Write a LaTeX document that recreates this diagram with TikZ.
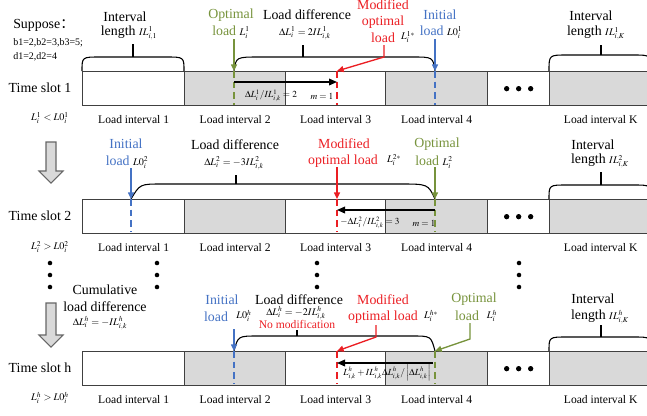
\documentclass[tikz,border=0pt]{standalone}
\usepackage{mathptmx}
\usepackage{fontspec}
\setmainfont{Liberation Serif}
\newfontfamily\cjk{Noto Sans CJK SC}
\usetikzlibrary{arrows.meta}
\definecolor{optgreen}{RGB}{119,147,60}
\definecolor{initblue}{RGB}{68,114,196}
\definecolor{modred}{RGB}{235,30,35}
\definecolor{segfill}{RGB}{217,217,217}
\definecolor{bardark}{RGB}{64,64,64}
\newcommand{\sm}[1]{{\fontsize{7.6}{9}\selectfont$#1$}}
\newcommand{\smin}[1]{{\fontsize{7}{8}\selectfont$#1$}}
\tikzset{
    every node/.style={inner sep=0pt},
    lbl/.style={font=\fontsize{10.4}{12}\selectfont},
    sublbl/.style={font=\fontsize{8.7}{10}\selectfont},
    note/.style={font=\fontsize{7.5}{9}\selectfont, anchor=west},
    seg/.style={draw=bardark, line width=1pt, minimum height=25.5pt, anchor=north west},
    brk/.style={line width=0.8pt},
    bigarr/.style={fill=segfill, draw=bardark!80, line width=0.8pt},
    tip/.style={-{Triangle[length=5pt,width=4.5pt]}},
    gline/.style={draw=optgreen, line width=1pt},
    bline/.style={draw=initblue, line width=1pt},
    rline/.style={draw=modred, line width=1pt},
    ldash/.style={dash pattern=on 5pt off 3pt},
    inarr/.style={line width=1pt, -{Triangle[length=6pt,width=5pt]}}
}

\begin{document}
\begin{tikzpicture}[x=0.75pt, y=-0.75pt]
    \useasboundingbox (0,0) rectangle (647,415);

    % bars of the three time slots
    \foreach \r/\yt in {1/71, 2/199, h/351} {
        \foreach \s/\xa/\xb/\f in {1/82/184/white, 2/184/285/segfill, 3/285/385/white, 4/385/487/segfill, d/487/549/white, K/549/651/segfill}
            \node[seg, fill=\f, minimum width={(\xb-\xa)*0.75pt}] (s\r\s) at (\xa,\yt) {};
        \foreach \s in {1,2,3,4,K}
            \node[sublbl] (l\r\s) at ([yshift=-9.75pt]s\r\s.south) {Load interval \s};
        \foreach \dx in {-12,0,12}
            \fill ([xshift=\dx*0.75pt]s\r d.center) circle (2pt);
    }

    % left column
    \node[lbl, anchor=west] (sup) at (13,25) {Suppose{\cjk ：}};
    \node[note] (bval) at (13,43) {b1=2,b2=3,b3=5;};
    \node[note] (dval) at (13,57) {d1=2,d2=4};
    \node[lbl] (ts1) at (40,88) {Time slot 1};
    \node (c1) at (50,118) {\sm{L^1_i < L0^1_i}};
    \node[lbl] (ts2) at (40,216) {Time slot 2};
    \node (c2) at (50,247) {\sm{L^2_i > L0^2_i}};
    \node[lbl] (tsh) at (40,368) {Time slot h};
    \node (ch) at (50,398) {\sm{L^h_i > L0^h_i}};
    \draw[bigarr] (46,142) -- (56,142) -- (56,171) -- (63,171) -- (51,183) -- (39,171) -- (46,171) -- cycle;
    \draw[bigarr] (46,303) -- (56,303) -- (56,335) -- (63,335) -- (51,347) -- (39,335) -- (46,335) -- cycle;
    \foreach \x in {50,157,317,519}
        \foreach \y in {263,275,287}
            \fill (\x,\y) circle (1.7pt);

    % time slot 1
    \node[lbl] (iv1a) at (125,17) {Interval};
    \node[lbl] (iv1b) at (129,33) {length \sm{IL^1_{i,1}}};
    \draw[brk] (82,71) .. controls (82,57) .. (100,57) -- (166,57) .. controls (184,57) .. (184,71);
    \draw[brk] (133,57) -- (133,44);
    \node[lbl, text=optgreen] (o1a) at (231,15) {Optimal};
    \node[lbl] (o1b) at (231,32) {\textcolor{optgreen}{load} \sm{L^1_i}};
    \node[lbl] (d1a) at (307,15) {Load difference};
    \node (d1b) at (305,33) {\sm{\Delta L^1_i = 2IL^1_{i,k}}};
    \draw[brk] (234,71) .. controls (236,57) .. (260,57) -- (412,57) .. controls (433,57) .. (435,71);
    \draw[brk] (303,57) -- (303,45);
    \node[lbl, text=modred] (m1a) at (383,5) {Modified};
    \node[lbl, text=modred] (m1b) at (383,22) {optimal};
    \node[lbl, text=modred] (m1c) at (383,38) {load};
    \node (m1d) at (408,37) {\sm{L^{1*}_i}};
    \node[lbl, text=initblue] (z1a) at (440,15) {Initial};
    \node[lbl] (z1b) at (441,32) {\textcolor{initblue}{load} \sm{L0^1_i}};
    \node[lbl] (k1a) at (591,16) {Interval};
    \node[lbl] (k1b) at (596,33) {length \sm{IL^1_{i,K}}};
    \draw[brk] (549,71) .. controls (549,55) .. (567,55) -- (633,55) .. controls (651,55) .. (651,71);
    \draw[brk] (601,55) -- (601,45);

    \coordinate (o1s) at (234,39);
    \coordinate (o1) at (234,71);
    \coordinate (o1e) at (234,105);
    \coordinate (m1s) at (384,45);
    \coordinate (m1k) at (384,57);
    \coordinate (m1) at (337,71);
    \coordinate (m1e) at (337,105);
    \coordinate (z1s) at (435,39);
    \coordinate (z1) at (435,71);
    \coordinate (z1e) at (435,105);
    \draw[gline, tip] (o1s) -- (o1);
    \draw[rline, tip] (m1s) -- (m1k) -- (m1);
    \draw[bline, tip] (z1s) -- (z1);
    \draw[gline, ldash] (o1) -- (o1e);
    \draw[rline, ldash] (m1) -- (m1e);
    \draw[bline, ldash] (z1) -- (z1e);
    \draw[inarr] ([yshift=-8.25pt]o1) -- ([yshift=-8.25pt]m1);
    \node (q1) at (271,96) {\smin{\Delta L^1_i / IL^1_{i,k} = 2}};
    \node (n1) at (322,96) {\smin{m = 1}};

    % time slot 2
    \node[lbl, text=initblue] (z2a) at (126,144) {Initial};
    \node[lbl] (z2b) at (127,162) {\textcolor{initblue}{load} \sm{L0^2_i}};
    \node[lbl] (d2a) at (235,145) {Load difference};
    \node (d2b) at (234,163) {\sm{\Delta L^2_i = -3IL^2_{i,k}}};
    \draw[brk] (131,199) .. controls (140,184) .. (162,184) -- (400,184) .. controls (428,184) .. (435,199);
    \draw[brk] (236,184) -- (236,175);
    \node[lbl, text=modred] (m2a) at (344,144) {Modified};
    \node[lbl, text=modred] (m2b) at (343,161) {optimal load};
    \node (m2c) at (394,160) {\sm{L^{2*}_i}};
    \node[lbl, text=optgreen] (o2a) at (437,144) {Optimal};
    \node[lbl] (o2b) at (434,162) {\textcolor{optgreen}{load} \sm{L^2_i}};
    \node[lbl] (k2a) at (593,145) {Interval};
    \node[lbl] (k2b) at (600,161) {length \sm{IL^2_{i,K}}};
    \draw[brk] (549,199) .. controls (549,185) .. (567,185) -- (633,185) .. controls (651,185) .. (651,199);
    \draw[brk] (601,185) -- (601,172);

    \coordinate (z2s) at (131,168);
    \coordinate (z2) at (131,199);
    \coordinate (z2e) at (131,232);
    \coordinate (m2s) at (337,167);
    \coordinate (m2) at (337,199);
    \coordinate (m2e) at (337,232);
    \coordinate (o2s) at (435,167);
    \coordinate (o2) at (435,199);
    \coordinate (o2e) at (435,232);
    \draw[bline, tip] (z2s) -- (z2);
    \draw[rline, tip] (m2s) -- (m2);
    \draw[gline, tip] (o2s) -- (o2);
    \draw[bline, ldash] (z2) -- (z2e);
    \draw[rline, ldash] (m2) -- (m2e);
    \draw[gline, ldash] (o2) -- (o2e);
    \draw[inarr] ([yshift=-8.25pt]o2) -- ([yshift=-8.25pt]m2);
    \node (q2) at (370,223) {\smin{-\Delta L^2_i / IL^2_{i,k} = 3}};
    \node (n2) at (424,223) {\smin{m = 1}};

    % time slot h
    \node[lbl] (cuma) at (105,290) {Cumulative};
    \node[lbl] (cumb) at (105,307) {load difference};
    \node (cumc) at (100,323) {\sm{\Delta L^h_i = -IL^h_{i,k}}};
    \node[lbl, text=initblue] (zha) at (222,300) {Initial};
    \node[lbl, text=initblue] (zhb) at (216,317) {load};
    \node (zhc) at (244,316) {\sm{L0^h_i}};
    \node[lbl] (dha) at (299,300) {Load difference};
    \node (dhb) at (296,313) {\sm{\Delta L^h_i = -2IL^h_{i,k}}};
    \node[sublbl, text=modred] (dhc) at (297,324) {No modification};
    \draw[brk] (234,351) .. controls (238,336) .. (258,336) -- (412,336) .. controls (431,336) .. (435,351);
    \draw[brk] (297,336) -- (297,330);
    \node[lbl, text=modred] (mha) at (383,300) {Modified};
    \node[lbl, text=modred] (mhb) at (383,317) {optimal load};
    \node (mhc) at (431,316) {\sm{L^{h*}_i}};
    \node[lbl, text=optgreen] (oha) at (474,299) {Optimal};
    \node[lbl, text=optgreen] (ohb) at (467,316) {load};
    \node (ohc) at (492,316) {\sm{L^h_i}};
    \node[lbl] (kha) at (593,299) {Interval};
    \node[lbl] (khb) at (600,317) {length \sm{IL^h_{i,K}}};
    \draw[brk] (549,351) .. controls (549,337) .. (567,337) -- (633,337) .. controls (651,337) .. (651,351);
    \draw[brk] (601,337) -- (601,325);

    \coordinate (zhs) at (234,329);
    \coordinate (zh) at (234,351);
    \coordinate (zhe) at (234,384);
    \coordinate (mhs) at (376,325);
    \coordinate (mhk) at (376,337);
    \coordinate (mh) at (337,351);
    \coordinate (mhe) at (337,384);
    \coordinate (ohs) at (470,323);
    \coordinate (ohk) at (470,339);
    \coordinate (oh) at (435,351);
    \coordinate (ohe) at (435,384);
    \draw[bline, tip] (zhs) -- (zh);
    \draw[rline, tip] (mhs) -- (mhk) -- (mh);
    \draw[gline, tip] (ohs) -- (ohk) -- (oh);
    \draw[bline, ldash] (zh) -- (zhe);
    \draw[rline, ldash] (mh) -- (mhe);
    \draw[gline, ldash] (oh) -- (ohe);
    \draw[inarr] ([xshift=-1.5pt, yshift=-9pt]oh) -- ([yshift=-9pt]mh);
    \node (qh) at (387,373) {\smin{L^h_{i,k} + IL^h_{i,k}\Delta L^h_{i,k} / \left|\Delta L^h_{i,k}\right|}};
\end{tikzpicture}
\end{document}
